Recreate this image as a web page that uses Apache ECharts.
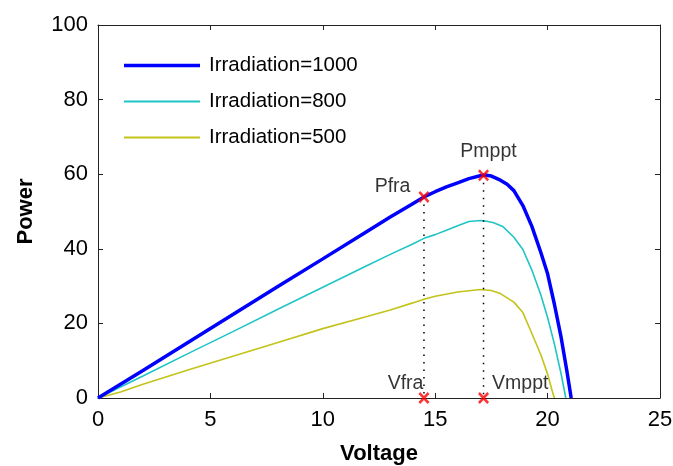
<!DOCTYPE html>
<html>
<head>
<meta charset="utf-8">
<script src="https://cdn.jsdelivr.net/npm/echarts@6/dist/echarts.min.js"></script>
<style>
html,body{margin:0;padding:0;background:#fff;}
#chart{width:673px;height:466px;}
</style>
</head>
<body>
<div id="chart"></div>
<script>
// ---- data ----
var xTicks = [0, 5, 10, 15, 20, 25];
var yTicks = [0, 20, 40, 60, 80, 100];

var v1000 = [0, 2, 4, 6, 8, 10, 12, 13, 14, 14.5, 15, 15.5, 16, 16.5, 17, 17.2, 17.5, 17.9, 18.2, 18.5, 18.9, 19.3, 19.7, 20.0, 20.3, 20.6, 20.85, 21.05];
var p1000 = [0, 7.4, 14.9, 22.4, 29.9, 37.3, 44.8, 48.5, 52.1, 53.9, 55.3, 56.6, 57.7, 58.8, 59.6, 59.8, 59.5, 58.4, 57.3, 55.6, 51.6, 46.0, 39.0, 33.3, 25.2, 16.3, 7.5, 0];

var v800 = [0, 2, 4, 6, 8, 10, 12, 13, 14, 14.5, 15, 15.5, 16, 16.5, 17, 17.3, 17.6, 18.0, 18.5, 18.9, 19.3, 19.7, 20.0, 20.3, 20.6, 20.81];
var p800 = [0, 5.9, 11.9, 17.8, 23.8, 29.7, 35.6, 38.5, 41.3, 42.8, 43.8, 45.0, 46.2, 47.3, 47.6, 47.4, 47.0, 46.0, 43.1, 39.8, 34.3, 27.6, 21.6, 14.5, 6.5, 0];

var v500 = [0, 1, 2, 4, 6, 8, 10, 12, 13, 14, 14.5, 15, 16, 17, 17.5, 17.9, 18.5, 18.9, 19.3, 19.7, 20.0, 20.2, 20.3];
var p500 = [0, 1.6, 3.7, 7.5, 11.2, 14.9, 18.6, 21.9, 23.6, 25.5, 26.5, 27.3, 28.4, 29.1, 28.8, 28.0, 25.7, 22.9, 17.3, 11.6, 6.4, 2.0, 0];

var names = ['Irradiation=1000', 'Irradiation=800', 'Irradiation=500'];

var vfra = 14.5, pfra = 53.9;
var vmppt = 17.15, pmppt = 59.7;
var markerLabels = ['Pfra', 'Pmppt', 'Vfra', 'Vmppt'];

function pairs(xs, ys) { return xs.map(function (x, i) { return [x, ys[i]]; }); }

var xSymbol = 'path://M0,1.6 L1.6,0 L5,3.4 L8.4,0 L10,1.6 L6.6,5 L10,8.4 L8.4,10 L5,6.6 L1.6,10 L0,8.4 L3.4,5 Z';
var FONT = '"Liberation Sans", Arial, sans-serif';
var AX = '#222';
var COLORS = ['#0000ff', '#1fc5c5', '#c3c31a'];
var WIDTHS = [3.5, 1.8, 1.8];
var LEGEND_TOPS = [55, 91, 127];

function legendFor(i) {
  return {
    data: [{ name: names[i], icon: 'rect' }],
    orient: 'vertical',
    left: 124, top: LEGEND_TOPS[i],
    itemWidth: 76, itemHeight: WIDTHS[i],
    padding: [0, 0, 0, 0],
    textStyle: { fontFamily: FONT, fontSize: 20.5, color: '#000', padding: [0, 0, 0, 4] },
    selectedMode: false
  };
}

var chart = echarts.init(document.getElementById('chart'));
var option = {
  animation: false,
  backgroundColor: '#fff',
  grid: { left: 98, right: 13, top: 25, bottom: 68, containLabel: false, outerBoundsMode: 'none' },
  legend: [legendFor(0), legendFor(1), legendFor(2)],
  xAxis: [{
    type: 'value', min: 0, max: 25, interval: 5,
    name: 'Voltage', nameLocation: 'middle', nameGap: 45,
    nameTextStyle: { fontFamily: FONT, fontSize: 22, fontWeight: 'bold', color: '#000' },
    axisLine: { show: true, onZero: false, lineStyle: { color: AX, width: 1 } },
    axisTick: { show: true, inside: true, length: 5, lineStyle: { color: AX } },
    axisLabel: { fontFamily: FONT, fontSize: 22, color: '#000', margin: 11 },
    splitLine: { show: false }
  }, {
    type: 'value', min: 0, max: 25, interval: 5, position: 'top',
    axisLine: { show: true, onZero: false, lineStyle: { color: AX, width: 1 } },
    axisTick: { show: true, inside: true, length: 5, lineStyle: { color: AX } },
    axisLabel: { show: false }, splitLine: { show: false }
  }],
  yAxis: [{
    type: 'value', min: 0, max: 100, interval: 20,
    name: 'Power', nameLocation: 'middle', nameGap: 61, nameRotate: 90,
    nameTextStyle: { fontFamily: FONT, fontSize: 22, fontWeight: 'bold', color: '#000' },
    axisLine: { show: true, onZero: false, lineStyle: { color: AX, width: 1 } },
    axisTick: { show: true, inside: true, length: 5, lineStyle: { color: AX } },
    axisLabel: { fontFamily: FONT, fontSize: 22, color: '#000', margin: 10 },
    splitLine: { show: false }
  }, {
    type: 'value', min: 0, max: 100, interval: 20, position: 'right',
    axisLine: { show: true, onZero: false, lineStyle: { color: AX, width: 1 } },
    axisTick: { show: true, inside: true, length: 5, lineStyle: { color: AX } },
    axisLabel: { show: false }, splitLine: { show: false }
  }],
  series: [
    {
      name: names[0], type: 'line', data: pairs(v1000, p1000), symbol: 'none',
      lineStyle: { color: COLORS[0], width: WIDTHS[0] }, itemStyle: { color: COLORS[0] }, z: 3
    },
    {
      name: names[1], type: 'line', data: pairs(v800, p800), symbol: 'none',
      lineStyle: { color: COLORS[1], width: 1.6 }, itemStyle: { color: COLORS[1] }, z: 2
    },
    {
      name: names[2], type: 'line', data: pairs(v500, p500), symbol: 'none',
      lineStyle: { color: COLORS[2], width: 1.6 }, itemStyle: { color: COLORS[2] }, z: 2
    },
    {
      type: 'line', data: [[vfra, pfra], [vfra, 0]], symbol: 'none', silent: true,
      lineStyle: { color: '#000', width: 1.5, type: [1.5, 6] }, z: 4
    },
    {
      type: 'line', data: [[vmppt, pmppt], [vmppt, 0]], symbol: 'none', silent: true,
      lineStyle: { color: '#000', width: 1.5, type: [1.5, 6] }, z: 4
    },
    {
      type: 'scatter', symbol: xSymbol, symbolSize: [11, 12], clip: false, z: 6,
      itemStyle: { color: '#ff0000' },
      label: { show: true, fontFamily: FONT, fontSize: 19.5, color: '#000', formatter: '{b}' },
      data: [
        { name: markerLabels[0], value: [vfra, pfra], label: { position: 'left', offset: [-3, -10] } },
        { name: markerLabels[1], value: [vmppt, pmppt], label: { position: 'top', offset: [5, -3] } },
        { name: markerLabels[2], value: [vfra, 0], label: { position: 'left', offset: [10, -14] } },
        { name: markerLabels[3], value: [vmppt, 0], label: { position: 'right', offset: [-2, -14] } }
      ]
    }
  ]
};
chart.setOption(option);
</script>
</body>
</html>
